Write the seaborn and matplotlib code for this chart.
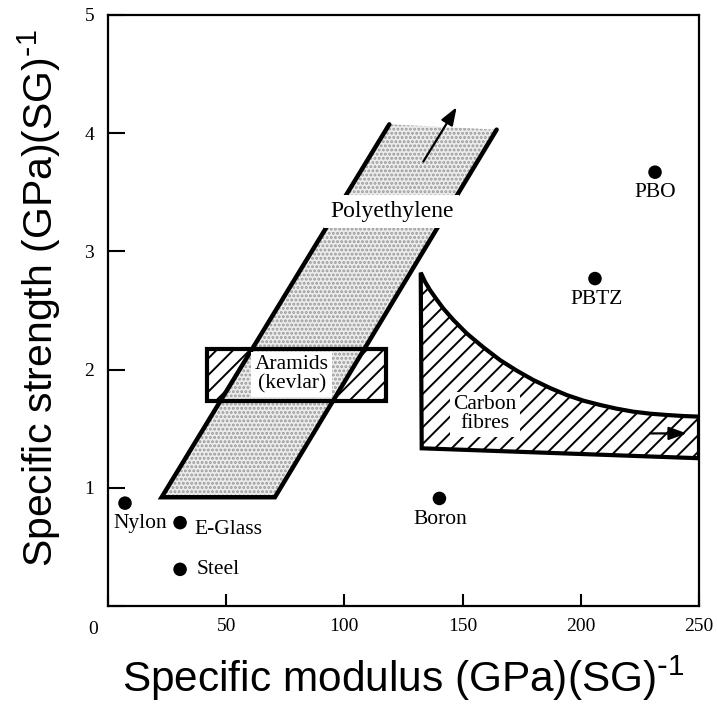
"""Specific strength vs specific modulus of reinforcing fibres."""

import matplotlib
matplotlib.use("Agg")
import matplotlib.pyplot as plt
import pandas as pd
import seaborn as sns

# point materials: (modulus, strength)
FIBRE_NAMES = ["Nylon", "E-Glass", "Steel", "Boron", "PBTZ", "PBO"]
FIBRE_MODULUS = [7.2, 30.5, 30.5, 140.2, 206.0, 231.4]
FIBRE_STRENGTH = [0.87, 0.705, 0.31, 0.91, 2.77, 3.67]

# label anchors for the point materials
LABEL_X = [2.5, 36.5, 37.5, 140.4, 206.7, 231.4]
LABEL_Y = [0.70, 0.643, 0.31, 0.73, 2.595, 3.50]
LABEL_HA = ["left", "left", "left", "center", "center", "center"]

# polyethylene band outline (bottom-left, bottom-right, top-right, top-left)
PE_MODULUS = [22.7, 70.6, 164.4, 119.0]
PE_STRENGTH = [0.92, 0.92, 4.03, 4.075]

# aramid (kevlar) box
ARAMID_MODULUS = [42.0, 117.5]
ARAMID_STRENGTH = [1.73, 2.17]

# carbon fibre region: upper curve from tip to right edge, then bottom edge
CF_TOP_MODULUS = [132.3, 134.1, 136.2, 139.0, 141.8, 146.1, 151.7, 158.8, 165.8, 172.9,
                  179.9, 187.0, 194.0, 201.1, 208.1, 215.2, 222.2, 229.3, 236.3, 243.4, 250.0]
CF_TOP_STRENGTH = [2.820, 2.744, 2.673, 2.594, 2.518, 2.420, 2.307, 2.188, 2.081, 1.991,
                   1.912, 1.844, 1.785, 1.737, 1.701, 1.669, 1.644, 1.627, 1.616, 1.607, 1.602]
CF_BOTTOM_MODULUS = [250.0, 132.7]
CF_BOTTOM_STRENGTH = [1.25, 1.334]

# trend arrows (tail, head)
PE_ARROW = [(133.4, 3.76), (147.5, 4.22)]
CF_ARROW = [(229.3, 1.46), (244.8, 1.46)]

X_TICKS = [0, 50, 100, 150, 200, 250]
Y_TICKS = [0, 1, 2, 3, 4, 5]

sns.set_theme(style="ticks")
plt.rcParams.update({
    "font.family": ["Liberation Serif", "DejaVu Serif"],
    "mathtext.default": "regular",
    "hatch.linewidth": 1.4,
    "axes.linewidth": 1.6,
    "text.color": "black",
    "axes.labelcolor": "black",
    "xtick.color": "black",
    "ytick.color": "black",
    "axes.edgecolor": "black",
})

SANS = ["Liberation Sans", "DejaVu Sans"]
LABEL_SIZE = 15.5

fig = plt.figure(figsize=(7.17, 7.10), dpi=100)
ax = fig.add_axes([0.1506, 0.1465, 0.8243, 0.8324])
ax.set_xlim(0, 250)
ax.set_ylim(0, 5)

# aramid box hatch (underneath the polyethylene band)
ar_x = [ARAMID_MODULUS[0], ARAMID_MODULUS[1], ARAMID_MODULUS[1], ARAMID_MODULUS[0]]
ar_y = [ARAMID_STRENGTH[0], ARAMID_STRENGTH[0], ARAMID_STRENGTH[1], ARAMID_STRENGTH[1]]
ax.fill(ar_x, ar_y, facecolor="white", edgecolor="black", hatch="//", linewidth=0, zorder=1)

# polyethylene band: stippled fill, two thick side edges and a bottom edge
ax.fill(PE_MODULUS, PE_STRENGTH, facecolor="#ececec", edgecolor="#9a9a9a",
        hatch="....", linewidth=0, zorder=2)
ax.plot([PE_MODULUS[3], PE_MODULUS[0], PE_MODULUS[1], PE_MODULUS[2]],
        [PE_STRENGTH[3], PE_STRENGTH[0], PE_STRENGTH[1], PE_STRENGTH[2]],
        color="black", linewidth=3.2, solid_joinstyle="miter", zorder=3)

# aramid box outline on top
ax.fill(ar_x, ar_y, facecolor="none", edgecolor="black", linewidth=3.0, zorder=4)

# carbon fibre region
cf_x = CF_TOP_MODULUS + CF_BOTTOM_MODULUS
cf_y = CF_TOP_STRENGTH + CF_BOTTOM_STRENGTH
ax.fill(cf_x, cf_y, facecolor="white", edgecolor="black", hatch="//",
        linewidth=3.0, zorder=2)

# arrows
for tail, head in [PE_ARROW, CF_ARROW]:
    ax.annotate("", xy=head, xytext=tail, zorder=6,
                arrowprops=dict(arrowstyle="-|>,head_length=0.6,head_width=0.22",
                                color="black", lw=1.6, mutation_scale=18,
                                shrinkA=0, shrinkB=0))

# region labels with white backgrounds
ax.text(120.0, 3.34, "Polyethylene", ha="center", va="center", fontsize=17,
        bbox=dict(boxstyle="square,pad=0.25", facecolor="white", edgecolor="none"),
        zorder=5)
ax.text(77.7, 1.96, "Aramids\n(kevlar)", ha="center", va="center",
        fontsize=LABEL_SIZE, linespacing=1.0,
        bbox=dict(boxstyle="square,pad=0.15", facecolor="white", edgecolor="none"),
        zorder=5)
ax.text(159.5, 1.62, "Carbon\nfibres", ha="center", va="center",
        fontsize=LABEL_SIZE, linespacing=1.0,
        bbox=dict(boxstyle="square,pad=0.15", facecolor="white", edgecolor="none"),
        zorder=5)

# point materials
pts = pd.DataFrame({"modulus": FIBRE_MODULUS, "strength": FIBRE_STRENGTH, "name": FIBRE_NAMES})
sns.scatterplot(data=pts, x="modulus", y="strength", color="black", s=95,
                edgecolor="none", ax=ax, zorder=7, clip_on=False)
for name, lx, ly, ha in zip(FIBRE_NAMES, LABEL_X, LABEL_Y, LABEL_HA):
    ax.text(lx, ly, name, ha=ha, va="center", fontsize=LABEL_SIZE, zorder=7)

# axes styling
ax.set_xticks(X_TICKS)
ax.set_xticklabels([""] + [str(t) for t in X_TICKS[1:]])
ax.set_yticks(Y_TICKS)
ax.set_yticklabels([""] + [str(t) for t in Y_TICKS[1:]])
ax.tick_params(axis="y", direction="in", length=12, width=1.5, labelsize=14, pad=10)
ax.tick_params(axis="x", direction="in", length=9, width=1.5, labelsize=14, pad=9)
ax.annotate("0", xy=(0, 0), xytext=(-11, -17), textcoords="offset points",
            ha="center", va="center", fontsize=14)

ax.set_xlabel(r"Specific modulus (GPa)(SG)$^{\text{-}1}$", fontsize=30.5, family=SANS)
ax.set_ylabel(r"Specific strength (GPa)(SG)$^{\text{-}1}$", fontsize=29.5, family=SANS)
ax.xaxis.set_label_coords(0.50, -0.08)
ax.yaxis.set_label_coords(-0.076, 0.52)

fig.savefig("out.png", dpi=100)
